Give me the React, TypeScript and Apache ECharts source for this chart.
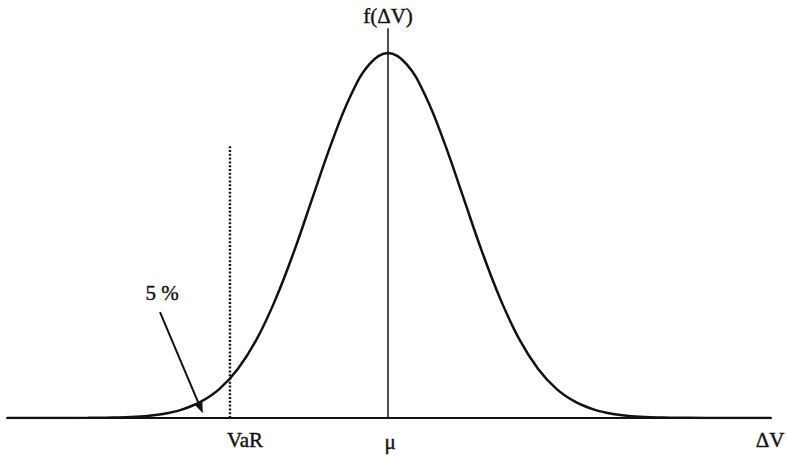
import React, { useEffect, useRef } from "react";
import * as echarts from "echarts";

// x in units of standard deviations from the mean, y = density as % of peak
const curveX = [-5.08, -4.5, -4, -3.75, -3.5, -3.25, -3, -2.75, -2.5, -2.25, -2, -1.75, -1.5, -1.25, -1, -0.75, -0.5, -0.25, 0, 0.25, 0.5, 0.75, 1, 1.25, 1.5, 1.75, 2, 2.25, 2.5, 2.75, 3, 3.25, 3.5, 3.75, 4, 4.5, 5.107];
const curveY = [0, 0, 0.05, 0.1, 0.2, 0.5, 1.1, 2.3, 4.4, 7.9, 13.5, 21.6, 32.5, 45.8, 60.7, 75.5, 88.2, 96.9, 100, 96.9, 88.2, 75.5, 60.7, 45.8, 32.5, 21.6, 13.5, 7.9, 4.4, 2.3, 1.1, 0.5, 0.2, 0.1, 0.05, 0, 0];
const muX = 0;
const muTop = 106.8;
const varX = -2.107;
const varTop = 74.8;
const arrowFrom = [-3.04, 29.0];
const arrowTo = [-2.5, 2.8];
const labels = { yName: "f(ΔV)", xName: "ΔV", varLabel: "VaR", muLabel: "μ", pct: "5 %" };

const FONT = "'Times New Roman', 'Liberation Serif', 'DejaVu Serif', serif";
const INK = "#111";

export default function App() {
  const ref = useRef<HTMLDivElement>(null);
  useEffect(() => {
    if (!ref.current) return;
    const chart = echarts.init(ref.current, null, { renderer: "svg" });
    const text = (t: string, x: number, y: number, size = 21) => ({
      type: "text",
      x,
      y,
      style: {
        text: t,
        fontFamily: FONT,
        fontSize: size,
        fontWeight: "normal",
        fill: INK,
        stroke: INK,
        lineWidth: 0.4,
        textAlign: "center",
        textVerticalAlign: "middle",
      },
    });
    chart.setOption({
      animation: false,
      backgroundColor: "#fff",
      grid: { left: 7, right: 16, top: 16.5, bottom: 38 },
      xAxis: {
        type: "value",
        min: -5.08,
        max: 5.107,
        axisLine: { show: true, lineStyle: { color: INK, width: 2 } },
        axisTick: { show: false },
        axisLabel: { show: false },
        splitLine: { show: false },
      },
      yAxis: {
        type: "value",
        min: 0,
        max: 110,
        show: false,
      },
      series: [
        {
          type: "line",
          data: curveX.map((x, i) => [x, curveY[i]]),
          smooth: 0.4,
          showSymbol: false,
          lineStyle: { color: INK, width: 2.5 },
          z: 3,
        },
        {
          type: "line",
          data: [[muX, 0], [muX, muTop]],
          showSymbol: false,
          lineStyle: { color: INK, width: 1.5 },
          clip: false,
        },
        {
          type: "line",
          data: [[varX, 0], [varX, varTop]],
          showSymbol: false,
          lineStyle: { color: INK, width: 2.4, type: [2, 1.8] },
        },
        {
          type: "line",
          data: [],
          markLine: {
            silent: true,
            symbol: ["none", "triangle"],
            symbolSize: [9, 12],
            label: { show: false },
            lineStyle: { color: INK, width: 2, type: "solid" },
            data: [[{ coord: arrowFrom }, { coord: arrowTo }]],
          },
        },
      ],
      graphic: [
        text(labels.yName, 388, 16),
        text(labels.xName, 770, 440),
        text(labels.varLabel, 245, 440),
        text(labels.muLabel, 390, 442),
        text(labels.pct, 162, 293),
      ],
    });
    return () => chart.dispose();
  }, []);
  return <div ref={ref} style={{ width: 787, height: 456, position: "absolute", left: 0, top: 0 }} />;
}
